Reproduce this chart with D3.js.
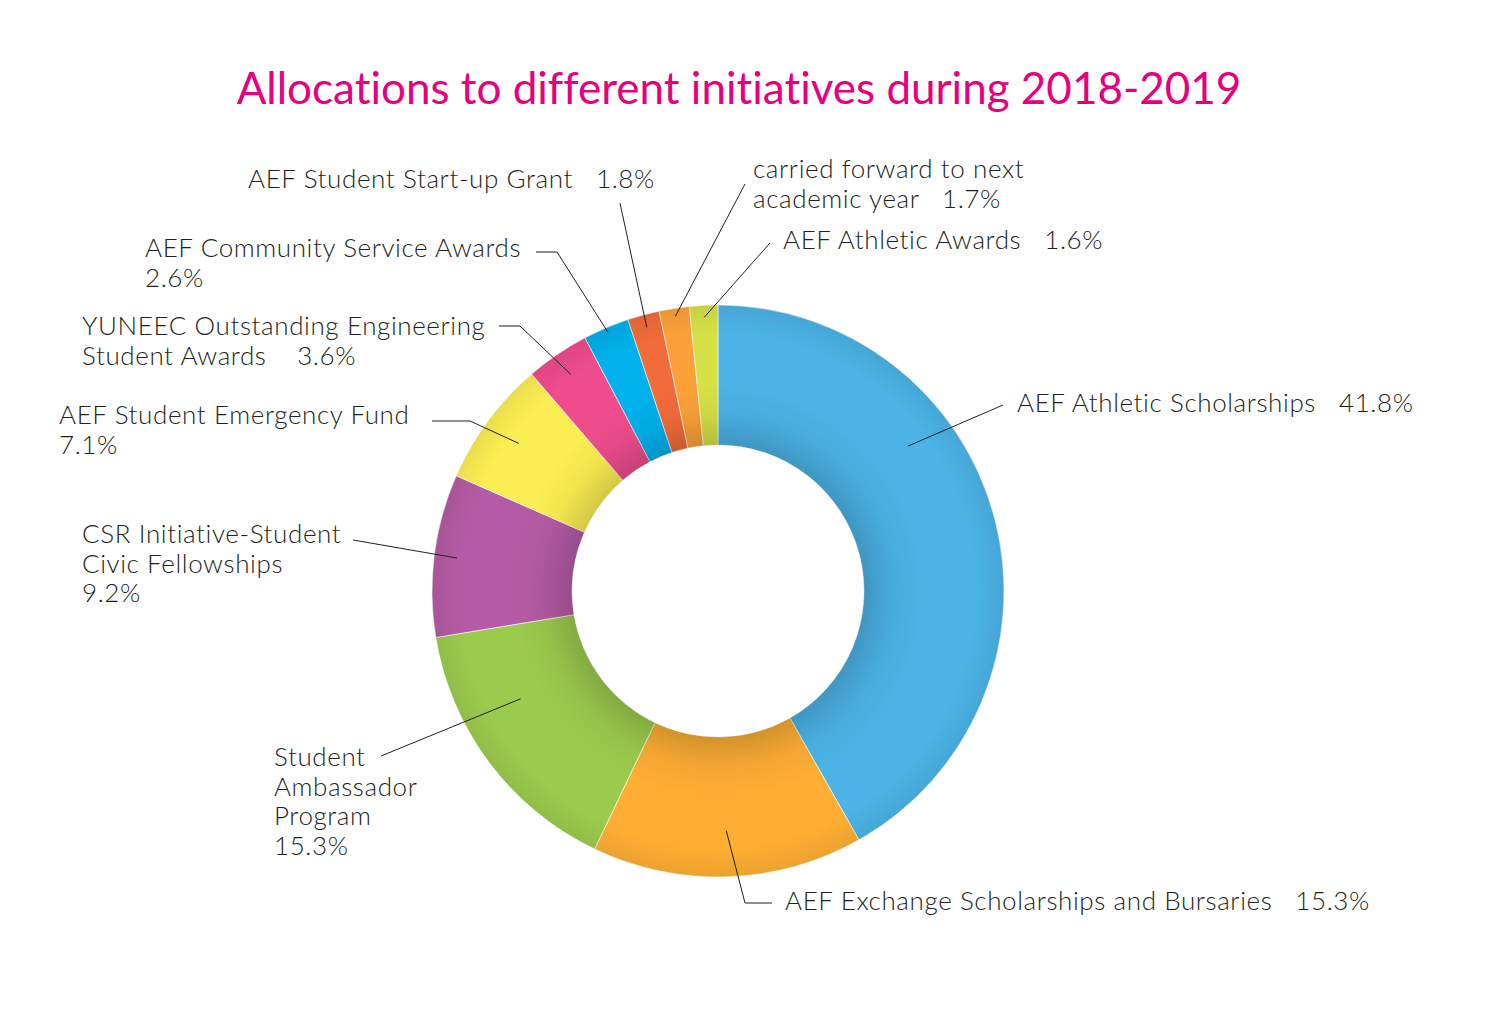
<!DOCTYPE html>
<html>
<head>
<meta charset="utf-8">
<script src="https://cdn.jsdelivr.net/npm/d3@7"></script>
<style>
  body { margin: 0; background: #fff; }
  svg text { font-family: "Lato", "Open Sans", sans-serif; white-space: pre; font-variant-ligatures: none; }
</style>
</head>
<body>
<div id="chart"></div>
<script>
// data, clockwise from 12 o'clock
const categories = [
  "AEF Athletic Scholarships",
  "AEF Exchange Scholarships and Bursaries",
  "Student Ambassador Program",
  "CSR Initiative-Student Civic Fellowships",
  "AEF Student Emergency Fund",
  "YUNEEC Outstanding Engineering Student Awards",
  "AEF Community Service Awards",
  "AEF Student Start-up Grant",
  "carried forward to next academic year",
  "AEF Athletic Awards"
];
const values = [41.8, 15.3, 15.3, 9.2, 7.1, 3.6, 2.6, 1.8, 1.7, 1.6];
const colors = ["#4bb3e6", "#fdae33", "#9bcb4d", "#b55ba5", "#fbee52",
                "#ee4c8c", "#00b1eb", "#f26b3a", "#fba137", "#d6e045"];

// label layout: text lines, where the percent goes, position, leader elbow
const labelLayout = [
  { lines: ["AEF Athletic Scholarships"], pct: "inline", x: 1017, y: 412, pts: [[1003, 405]], r: 239, t: 0.35 },
  { lines: ["AEF Exchange Scholarships and Bursaries"], pct: "inline", x: 785, y: 910, pts: [[772, 903], [745, 903]], r: 240, t: 0.5 },
  { lines: ["Student", "Ambassador", "Program"], pct: "newline", x: 274, y: 766, pts: [[381, 756]], r: 225, t: 0.65 },
  { lines: ["CSR Initiative-Student", "Civic Fellowships"], pct: "newline", x: 82, y: 543, pts: [[353, 540]], r: 263, t: 0.5 },
  { lines: ["AEF Student Emergency Fund"], pct: "newline", x: 59, y: 424, pts: [[432, 421], [470, 421]], r: 248, t: 0.5 },
  { lines: ["YUNEEC Outstanding Engineering", "Student Awards"], pct: "inline4", x: 82, y: 335, pts: [[499, 326], [520, 326]], r: 262, t: 0.5 },
  { lines: ["AEF Community Service Awards"], pct: "newline", x: 145, y: 257, pts: [[536, 252], [557, 252]], r: 281, t: 0.5 },
  { lines: ["AEF Student Start-up Grant"], pct: "inline", x: 248, y: 188, pts: [[620, 203]], r: 273, t: 0.5 },
  { lines: ["carried forward to next", "academic year"], pct: "inline", x: 753, y: 178, pts: [[745, 184]], r: 278, t: 0.5 },
  { lines: ["AEF Athletic Awards"], pct: "inline", x: 783, y: 249, pts: [[770, 243]], r: 274, t: 0.5 }
];

const width = 1487, height = 1017;
const cx = 718, cy = 591;
const outerR = 286, innerR = 146;
const lineH = 29.7;

const svg = d3.select("#chart").append("svg")
  .attr("width", width)
  .attr("height", height);

const defs = svg.append("defs");
const shade = defs.append("radialGradient")
  .attr("id", "shade")
  .attr("gradientUnits", "userSpaceOnUse")
  .attr("cx", 0).attr("cy", 0).attr("r", outerR);
[[innerR / outerR, 0.16], [0.62, 0.04], [0.72, 0], [0.9, 0], [1, 0.07]].forEach(s => {
  shade.append("stop")
    .attr("offset", s[0])
    .attr("stop-color", "#000")
    .attr("stop-opacity", s[1]);
});

// title
svg.append("text")
  .attr("x", 739)
  .attr("y", 104)
  .attr("text-anchor", "middle")
  .attr("fill", "#e6007e")
  .style("font-size", "44px")
  .text("Allocations to different initiatives during 2018-2019");

const pie = d3.pie().sort(null).value(d => d);
const arcs = pie(values);
const arc = d3.arc().innerRadius(innerR).outerRadius(outerR);

const g = svg.append("g")
  .attr("transform", "translate(" + cx + "," + cy + ")");

g.selectAll("path.slice")
  .data(arcs)
  .join("path")
  .attr("class", "slice")
  .attr("d", arc)
  .attr("fill", (d, i) => colors[i])
  .attr("stroke", "#fff")
  .attr("stroke-width", 0.6);

// soft shading on the ring
g.append("path")
  .attr("d", d3.arc().innerRadius(innerR).outerRadius(outerR).startAngle(0).endAngle(2 * Math.PI)())
  .attr("fill", "url(#shade)")
  .attr("pointer-events", "none");

// leader lines + labels
const fmt = v => d3.format(".1f")(v) + "%";
arcs.forEach((a, i) => {
  const lay = labelLayout[i];
  const ang = a.startAngle + (a.endAngle - a.startAngle) * lay.t;
  const ax = cx + lay.r * Math.sin(ang);
  const ay = cy - lay.r * Math.cos(ang);
  const pts = lay.pts.concat([[ax, ay]]);
  svg.append("path")
    .attr("d", d3.line()(pts))
    .attr("fill", "none")
    .attr("stroke", "#231f20")
    .attr("stroke-width", 1);

  const lines = lay.lines.slice();
  if (lay.pct === "newline") lines.push(fmt(values[i]));
  else if (lay.pct === "inline4") lines[lines.length - 1] += "    " + fmt(values[i]);
  else lines[lines.length - 1] += "   " + fmt(values[i]);

  const t = svg.append("text")
    .attr("x", lay.x)
    .attr("y", lay.y)
    .attr("fill", "#231f20")
    .style("font-size", "26px")
    .style("letter-spacing", "0.6px")
    .style("font-weight", 300);
  lines.forEach((l, k) => {
    t.append("tspan")
      .attr("x", lay.x)
      .attr("y", lay.y + k * lineH)
      .text(l);
  });
});
</script>
</body>
</html>
